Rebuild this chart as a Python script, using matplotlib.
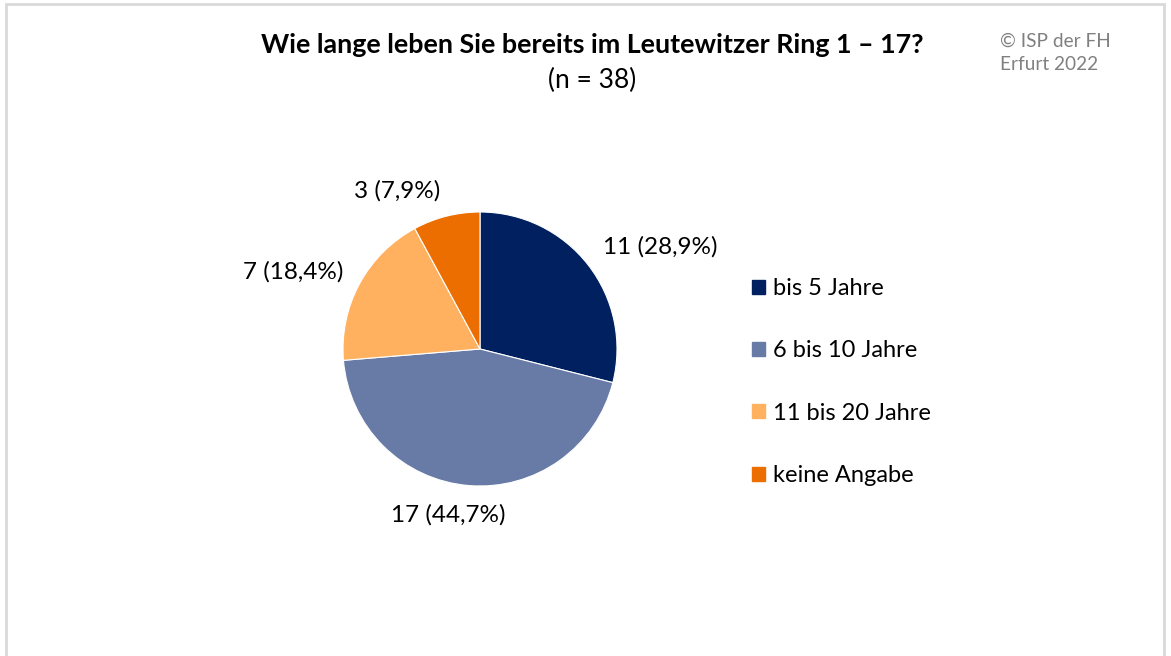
import matplotlib.pyplot as plt
from matplotlib.patches import Rectangle

kategorien = ["bis 5 Jahre", "6 bis 10 Jahre", "11 bis 20 Jahre", "keine Angabe"]
anzahl = [11, 17, 7, 3]
prozent = ["28,9", "44,7", "18,4", "7,9"]
farben = ["#002060", "#687BA6", "#FFB15F", "#EC6E00"]

# Label-Positionen (Pixel im Bild), wie im Original
label_pos = [(660, 247), (448, 515), (293, 272), (397, 191)]

W, H = 1171, 656
plt.rcParams["font.family"] = ["Lato", "DejaVu Sans"]

fig = plt.figure(figsize=(W / 100, H / 100), dpi=100)
fig.patches.append(Rectangle((6 / W, -0.01), (1164 - 6) / W, 1 - 4 / H + 0.01,
                             transform=fig.transFigure, fill=False,
                             edgecolor="#D9D9D9", linewidth=2))

ax = fig.add_axes([343 / W, (H - 486) / H, 274 / W, 274 / H])
wedges, _ = ax.pie(anzahl, colors=farben, startangle=90, counterclock=False,
                   radius=1, wedgeprops=dict(edgecolor="white", linewidth=0.8))
ax.set_xlim(-1, 1)
ax.set_ylim(-1, 1)
ax.set_aspect("equal")
ax.axis("off")

for (px, py), n, p in zip(label_pos, anzahl, prozent):
    fig.text(px / W, 1 - py / H, f"{n} ({p}%)", ha="center", va="center",
             fontsize=17.5, color="#000000")

fig.text(592 / W, 1 - 45 / H, "Wie lange leben Sie bereits im Leutewitzer Ring 1 – 17?",
         ha="center", va="center", fontsize=19.4, fontweight="bold")
fig.text(592 / W, 1 - 80 / H, "(n = 38)", ha="center", va="center", fontsize=19)
fig.text(1000 / W, 1 - 53 / H, "© ISP der FH\nErfurt 2022", ha="left", va="center",
         fontsize=13.7, color="#808080", linespacing=1.5)

handles = [Rectangle((0, 0), 1, 1, color=c) for c in farben]
fig.legend(handles, kategorien, loc="center left", bbox_to_anchor=(752 / W, 1 - 382 / H),
           frameon=False, fontsize=17, handlelength=0.55, handleheight=0.55,
           handletextpad=0.34, labelspacing=1.75, borderpad=0, borderaxespad=0)

fig.savefig("out.png", dpi=100)
